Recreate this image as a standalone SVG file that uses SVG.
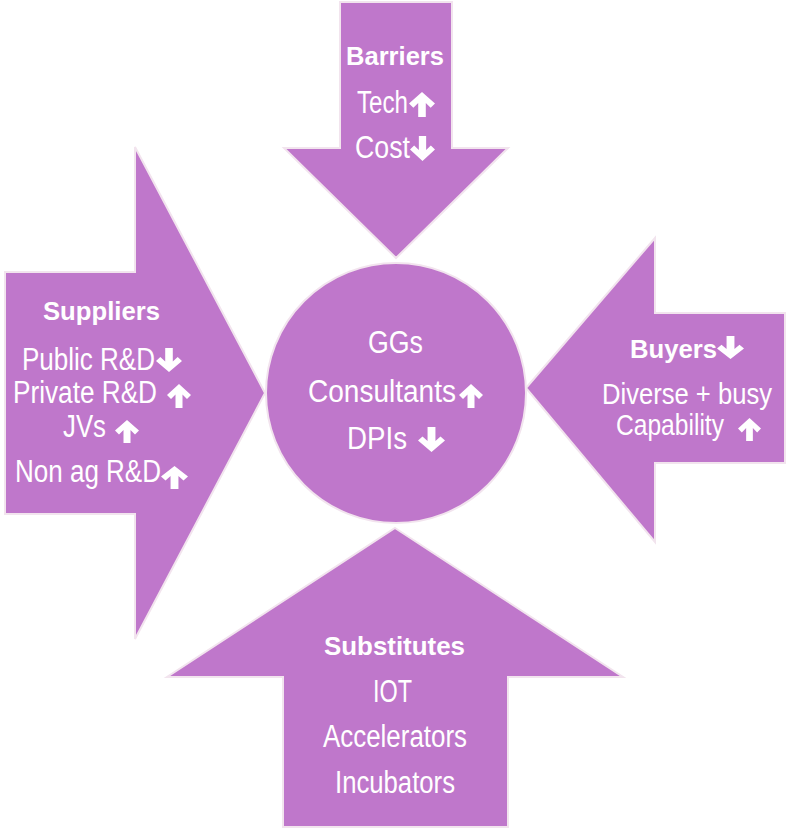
<svg xmlns="http://www.w3.org/2000/svg" width="786" height="829" viewBox="0 0 786 829">
<style>
.shape{fill:#BF77CB;stroke:#F2E4EE;stroke-width:2;stroke-linejoin:miter}
text{fill:#FFFFFF;font-family:"Liberation Sans Narrow","Liberation Sans",Arial,sans-serif;text-anchor:start}
.b{font-weight:bold;font-size:26px;font-family:"Liberation Sans",Arial,sans-serif}
.r{font-size:31px}
.s{font-size:29px}
.ic{fill:#FFFFFF}
</style>
<defs>
<symbol id="up" viewBox="0 0 24 24" preserveAspectRatio="none"><polygon class="ic" points="12,0 24,11 20,15 15.5,10.5 15.5,24 8.5,24 8.5,10.5 4,15 0,11"/></symbol>
<symbol id="down" viewBox="0 0 24 24" preserveAspectRatio="none"><polygon class="ic" points="12,24 24,13 20,9 15.5,13.5 15.5,0 8.5,0 8.5,13.5 4,9 0,13"/></symbol>
</defs>
<rect width="786" height="829" fill="#FFFFFF"/>
<g id="connectors"></g>
<g id="barriers">
<polygon class="shape" points="340,2 452,2 452,148 508,148 396,258 284,148 340,148"/>
<text class="b" x="346" y="65" textLength="98" lengthAdjust="spacingAndGlyphs">Barriers</text>
<text class="r" x="357" y="113" textLength="51" lengthAdjust="spacingAndGlyphs">Tech</text>
<use href="#up" x="409" y="92" width="26" height="25"/>
<text class="r" x="355" y="158" textLength="55" lengthAdjust="spacingAndGlyphs">Cost</text>
<use href="#down" x="410" y="136" width="25" height="25"/>
</g>
<g id="suppliers">
<polygon class="shape" points="5,272 135,272 135,147 265,393 135,639 135,514 5,514"/>
<text class="b" x="43" y="320" textLength="117" lengthAdjust="spacingAndGlyphs">Suppliers</text>
<text class="r" x="22" y="370" textLength="133" lengthAdjust="spacingAndGlyphs">Public R&amp;D</text>
<use href="#down" x="156" y="348" width="26" height="24"/>
<text class="r" x="13" y="403" textLength="144" lengthAdjust="spacingAndGlyphs">Private R&amp;D</text>
<use href="#up" x="167" y="384" width="24" height="24"/>
<text class="r" x="63" y="437" textLength="43" lengthAdjust="spacingAndGlyphs">JVs</text>
<use href="#up" x="115" y="420" width="24" height="23"/>
<text class="r" x="15" y="482" textLength="146" lengthAdjust="spacingAndGlyphs">Non ag R&amp;D</text>
<use href="#up" x="161" y="466" width="27" height="23"/>
</g>
<g id="buyers">
<polygon class="shape" points="526,388 655,238 655,313 785,313 785,463 655,463 655,542"/>
<text class="b" x="630" y="358" textLength="87" lengthAdjust="spacingAndGlyphs">Buyers</text>
<use href="#down" x="717" y="336" width="27" height="23"/>
<text class="s" x="602" y="404" textLength="170" lengthAdjust="spacingAndGlyphs">Diverse + busy</text>
<text class="s" x="616" y="435" textLength="108" lengthAdjust="spacingAndGlyphs">Capability</text>
<use href="#up" x="738" y="418" width="23" height="23"/>
</g>
<g id="substitutes">
<polygon class="shape" points="395,528 623,677 508,677 508,827 283,827 283,677 167,677"/>
<text class="b" x="324" y="655" textLength="141" lengthAdjust="spacingAndGlyphs">Substitutes</text>
<text class="r" x="373" y="702" textLength="39" lengthAdjust="spacingAndGlyphs">IOT</text>
<text class="r" x="323" y="747" textLength="144" lengthAdjust="spacingAndGlyphs">Accelerators</text>
<text class="r" x="335" y="793" textLength="120" lengthAdjust="spacingAndGlyphs">Incubators</text>
</g>
<g id="center">
<circle class="shape" cx="396" cy="393" r="130"/>
<text class="r" x="368" y="353" textLength="55" lengthAdjust="spacingAndGlyphs">GGs</text>
<text class="r" x="308" y="402" textLength="148" lengthAdjust="spacingAndGlyphs">Consultants</text>
<use href="#up" x="459" y="384" width="24" height="24"/>
<text class="r" x="347" y="449" textLength="60" lengthAdjust="spacingAndGlyphs">DPIs</text>
<use href="#down" x="418" y="427" width="27" height="25"/>
</g>
</svg>
